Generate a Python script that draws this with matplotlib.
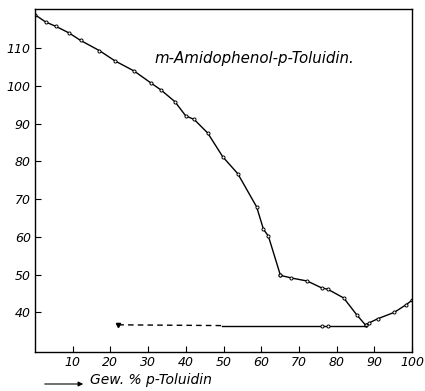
import matplotlib.pyplot as plt

branch_a_x = [0, 2.8, 5.6, 9.0, 12.1, 17.1, 21.2, 26.3, 30.8, 33.4, 37.1, 40.0,
              42.2, 45.8, 49.8, 53.8, 58.8, 60.6, 61.9, 65.1]
branch_a_y = [118.8, 116.9, 115.7, 114.0, 112.0, 109.3, 106.6, 103.9, 100.7, 98.9,
              95.8, 92.0, 91.1, 87.5, 81.2, 76.7, 67.9, 62.0, 60.2, 49.8]

branch_b_x = [65.1, 68.0, 72.2, 76.0, 77.7, 81.9, 85.3, 87.7]
branch_b_y = [49.8, 49.1, 48.3, 46.5, 46.1, 43.8, 39.4, 36.6]

branch_c_x = [87.7, 88.6, 90.9, 95.3, 98.4, 100]
branch_c_y = [36.6, 37.2, 38.3, 40.0, 42.0, 43.2]

eut_dash_x = [22.1, 49.6]
eut_dash_y = [36.7, 36.5]
eut_solid_x = [49.6, 87.7]
eut_solid_y = [36.5, 36.5]
eut_pts_x = [76.0, 77.6]
eut_pts_y = [36.3, 36.3]

xticks = [10, 20, 30, 40, 50, 60, 70, 80, 90, 100]
yticks = [40, 50, 60, 70, 80, 90, 100, 110]


def draw():
    fig = plt.figure(figsize=(4.25, 3.91), dpi=100)
    ax = fig.add_axes([0.0824, 0.0997, 0.887, 0.877])
    mk = dict(marker='o', ms=2.2, mfc='white', mec='black', mew=0.7)
    for xs, ys in [(branch_a_x, branch_a_y), (branch_b_x, branch_b_y), (branch_c_x, branch_c_y)]:
        ax.plot(xs, ys, color='black', lw=1.0, **mk)
    ax.plot(eut_dash_x, eut_dash_y, color='black', lw=1.0, ls=(0, (4, 3)))
    ax.plot(eut_dash_x[:1], eut_dash_y[:1], 'v', color='black', ms=3)
    ax.plot(eut_solid_x, eut_solid_y, color='black', lw=1.0)
    ax.plot(eut_pts_x, eut_pts_y, ls='none', **mk)

    ax.set_xlim(0, 100)
    ax.set_ylim(29.5, 120.3)
    ax.set_xticks(xticks)
    ax.set_yticks(yticks)
    ax.set_xticklabels([str(t) for t in xticks], fontstyle='italic', fontsize=9)
    ax.set_yticklabels([str(t) for t in yticks], fontstyle='italic', fontsize=9)
    ax.tick_params(direction='in', length=4, width=0.8, pad=3)
    for s in ax.spines.values():
        s.set_linewidth(1.0)

    ax.text(58.2, 107.3, 'm-Amidophenol-p-Toluidin.', fontstyle='italic',
            fontsize=10.8, ha='center', va='center')

    fig.text(90 / 425, 1 - 380 / 391, 'Gew. % p-Toluidin', fontstyle='italic',
             fontsize=10, ha='left', va='center')
    fig.patches.append(plt.matplotlib.patches.FancyArrowPatch(
        (42 / 425, 1 - 384 / 391), (86 / 425, 1 - 384 / 391),
        transform=fig.transFigure, arrowstyle='-|>', mutation_scale=7,
        color='black', lw=0.8))

    fig.savefig('out.png', dpi=100)


if __name__ == '__main__':
    draw()
